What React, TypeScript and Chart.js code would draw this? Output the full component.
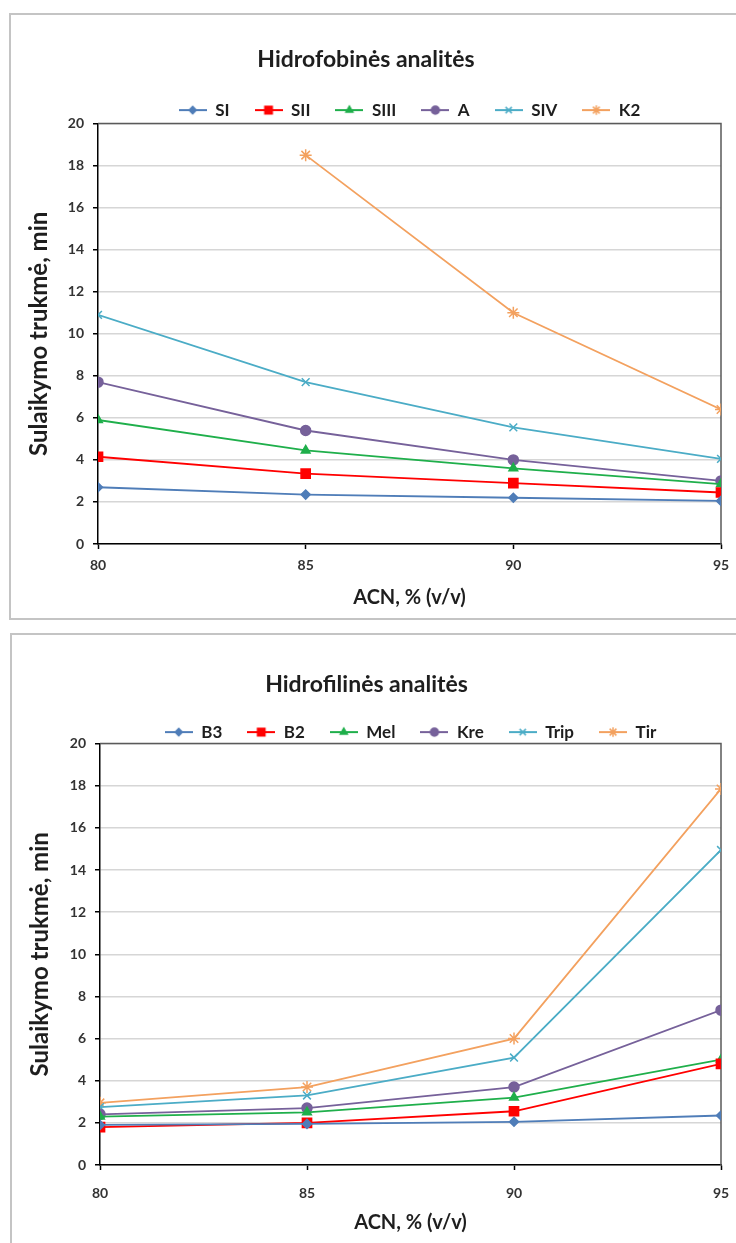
import React, { useEffect, useRef } from "react";
import { Chart, registerables } from "chart.js";
import { drawPoint } from "chart.js/helpers";

Chart.register(...registerables);

// ---------- data ----------
const acnValues = [80, 85, 90, 95];
const xTickValues = [80, 85, 90, 95];
const yTickValues = [0, 2, 4, 6, 8, 10, 12, 14, 16, 18, 20];

const phobicTitle = "Hidrofobinės analitės";
const phobicNames = ["SI", "SII", "SIII", "A", "SIV", "K2"];
const SI = [2.7, 2.35, 2.2, 2.05];
const SII = [4.15, 3.35, 2.9, 2.45];
const SIII = [5.9, 4.45, 3.6, 2.85];
const A = [7.7, 5.4, 4.0, 3.0];
const SIV = [10.9, 7.7, 5.55, 4.05];
const K2 = [null, 18.5, 11.0, 6.4];

const philicTitle = "Hidrofilinės analitės";
const philicNames = ["B3", "B2", "Mel", "Kre", "Trip", "Tir"];
const B3 = [1.9, 1.95, 2.05, 2.35];
const B2 = [1.8, 2.0, 2.55, 4.8];
const Mel = [2.3, 2.5, 3.2, 5.0];
const Kre = [2.4, 2.7, 3.7, 7.35];
const Trip = [2.75, 3.3, 5.1, 14.95];
const Tir = [2.95, 3.7, 6.0, 17.85];

const xTitle = "ACN, % (v/v)";
const yTitle = "Sulaikymo trukmė, min";

// ---------- styles ----------
const FONT = "Lato, 'Open Sans', 'DejaVu Sans', sans-serif";
const colors = ["#4F7DB8", "#FF0000", "#1FAF4B", "#76619A", "#4BACC6", "#F3A15F"];
const markers = ["rectRot", "rect", "triangle", "circle", "crossRot", "star"];
const radii = [4.5, 6.5, 5, 5, 5.5, 6];

function makeIcon(i: number): HTMLCanvasElement {
  const c = document.createElement("canvas");
  c.width = 28;
  c.height = 14;
  const ctx = c.getContext("2d")!;
  ctx.strokeStyle = colors[i];
  ctx.fillStyle = colors[i];
  ctx.lineWidth = 2;
  ctx.beginPath();
  ctx.moveTo(0, 7);
  ctx.lineTo(28, 7);
  ctx.stroke();
  ctx.lineWidth = 1.5;
  drawPoint(ctx, { pointStyle: markers[i] as any, radius: radii[i] * 0.8, rotation: 0, borderWidth: 1.5 }, 14, 7);
  return c;
}

type Layout = {
  width: number;
  height: number;
  padRight: number;
  titleTop: number;
  titleBottom: number;
  legendHeight: number;
  yWidth: number;
  xHeight: number;
  xTickPad: number;
  xTitleBottom: number;
};

function buildConfig(title: string, names: string[], series: (number | null)[][], L: Layout): any {
  const icons = names.map((_, i) => makeIcon(i));
  return {
    type: "line",
    data: {
      datasets: names.map((n, i) => ({
        label: n,
        data: acnValues.map((x, j) => ({ x, y: series[i][j] })),
        borderColor: colors[i],
        backgroundColor: colors[i],
        borderWidth: 1.8,
        pointStyle: markers[i],
        pointRadius: radii[i],
        pointBorderWidth: 1.5,
        pointBorderColor: colors[i],
        pointBackgroundColor: colors[i],
        spanGaps: false,
        tension: 0,
      })),
    },
    options: {
      responsive: false,
      animation: false,
      devicePixelRatio: 1,
      layout: { padding: { left: 0, right: L.padRight, top: 0, bottom: 0 } },
      plugins: {
        title: {
          display: true,
          text: title,
          color: "#1e1e1e",
          font: { family: FONT, size: 23, weight: "bold" },
          padding: { top: L.titleTop, bottom: L.titleBottom },
        },
        legend: {
          display: true,
          fullSize: false,
          labels: {
            usePointStyle: true,
            pointStyleWidth: 28,
            padding: 25,
            color: "#1e1e1e",
            font: { family: FONT, size: 17, weight: "bold" },
            generateLabels: () =>
              names.map((n, i) => ({
                text: n,
                pointStyle: icons[i],
                fillStyle: colors[i],
                strokeStyle: colors[i],
                lineWidth: 0,
                hidden: false,
                datasetIndex: i,
                fontColor: "#1e1e1e",
              })),
          },
        },
        tooltip: { enabled: false },
      },
      scales: {
        x: {
          type: "linear",
          min: xTickValues[0],
          max: xTickValues[xTickValues.length - 1],
          afterBuildTicks: (s: any) => {
            s.ticks = xTickValues.map((v) => ({ value: v }));
          },
          afterFit: (s: any) => {
            s.height = L.xHeight;
          },
          ticks: {
            color: "#333",
            font: { family: FONT, size: 14, weight: "bold" },
            padding: L.xTickPad,
            maxRotation: 0,
          },
          grid: { drawOnChartArea: false, drawTicks: true, tickLength: 5, tickColor: "#000", tickWidth: 1.5 },
          border: { display: true, color: "#000", width: 1.5 },
          title: {
            display: true,
            text: xTitle,
            color: "#1e1e1e",
            font: { family: FONT, size: 20, weight: "bold" },
            padding: { top: 0, bottom: L.xTitleBottom },
          },
        },
        y: {
          min: yTickValues[0],
          max: yTickValues[yTickValues.length - 1],
          afterBuildTicks: (s: any) => {
            s.ticks = yTickValues.map((v) => ({ value: v }));
          },
          afterFit: (s: any) => {
            s.width = L.yWidth;
          },
          ticks: {
            color: "#333",
            font: { family: FONT, size: 14, weight: "bold" },
            padding: 9,
          },
          grid: { color: "#D6D6D6", lineWidth: 1.5, drawTicks: true, tickLength: 5, tickColor: "#000", tickWidth: 1.5 },
          border: { display: true, color: "#000", width: 1.5 },
          title: {
            display: true,
            text: yTitle,
            color: "#1e1e1e",
            font: { family: FONT, size: 24, weight: "bold" },
            padding: { top: 14, bottom: 0 },
          },
        },
      },
    },
    plugins: [
      {
        id: "legendHeight",
        beforeInit(chart: any) {
          const lg = chart.legend;
          if (!lg) return;
          const orig = lg.fit;
          lg.fit = function () {
            orig.call(this);
            this.height = L.legendHeight;
          };
        },
      },
      {
        id: "plotFrame",
        beforeDatasetsDraw(chart: any) {
          const { ctx, chartArea: a } = chart;
          ctx.save();
          ctx.strokeStyle = "#5a5a5a";
          ctx.lineWidth = 1.5;
          ctx.beginPath();
          ctx.moveTo(a.left, a.top);
          ctx.lineTo(a.right, a.top);
          ctx.lineTo(a.right, a.bottom);
          ctx.stroke();
          ctx.restore();
        },
      },
    ],
  };
}

function LineChart(props: { title: string; names: string[]; series: (number | null)[][]; layout: Layout; style: React.CSSProperties }) {
  const ref = useRef<HTMLCanvasElement | null>(null);
  useEffect(() => {
    if (!ref.current) return;
    const chart = new Chart(ref.current, buildConfig(props.title, props.names, props.series, props.layout));
    return () => chart.destroy();
  }, []);
  return (
    <canvas
      ref={ref}
      width={props.layout.width}
      height={props.layout.height}
      style={{ position: "absolute", width: props.layout.width, height: props.layout.height, ...props.style }}
    />
  );
}

const layout1: Layout = {
  width: 740,
  height: 603,
  padRight: 30,
  titleTop: 31,
  titleBottom: 3,
  legendHeight: 47,
  yWidth: 87,
  xHeight: 74,
  xTickPad: 8,
  xTitleBottom: 8,
};

const layout2: Layout = {
  width: 740,
  height: 620,
  padRight: 31,
  titleTop: 36,
  titleBottom: 0,
  legendHeight: 45,
  yWidth: 88,
  xHeight: 90,
  xTickPad: 15,
  xTitleBottom: 20,
};

export default function App() {
  return (
    <div style={{ position: "fixed", left: 0, top: 0, width: 736, height: 1243, overflow: "hidden", background: "#fff" }}>
      <div
        style={{
          position: "absolute",
          left: 9,
          top: 13,
          width: 760,
          height: 607,
          border: "2px solid #C4C4C4",
          boxSizing: "border-box",
        }}
      />
      <LineChart
        title={phobicTitle}
        names={phobicNames}
        series={[SI, SII, SIII, A, SIV, K2]}
        layout={layout1}
        style={{ left: 11, top: 15 }}
      />
      <div
        style={{
          position: "absolute",
          left: 10,
          top: 633,
          width: 760,
          height: 660,
          border: "2px solid #C4C4C4",
          boxSizing: "border-box",
        }}
      />
      <LineChart
        title={philicTitle}
        names={philicNames}
        series={[B3, B2, Mel, Kre, Trip, Tir]}
        layout={layout2}
        style={{ left: 12, top: 635 }}
      />
    </div>
  );
}
